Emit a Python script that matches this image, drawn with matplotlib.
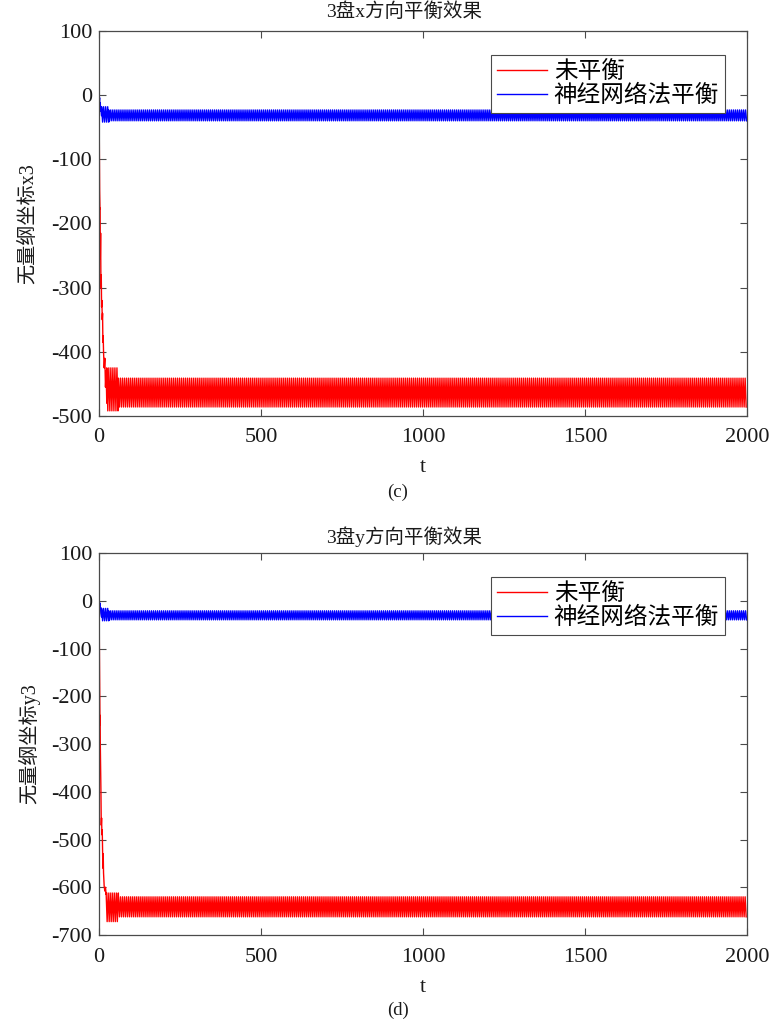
import numpy as np
import matplotlib
matplotlib.use("Agg")
import matplotlib.pyplot as plt

plt.rcParams['font.family'] = ['Liberation Serif', 'Noto Sans CJK SC']
plt.rcParams['axes.unicode_minus'] = False

# ---------------- data ----------------
# panel (c): x3 direction
c_red_t = [0, 1, 2, 3, 3.5, 4, 5, 6, 7, 8, 9, 10, 11, 12, 13, 14, 16, 18, 20, 22, 24]
c_red_v = [0, -90, -150, -178, -176, -255, -215, -300, -280, -330, -320, -350, -340, -385, -375, -400, -425, -410, -455, -430, -480]
c_red_bands = [(24, 60, -425, -492), (60, 2000, -441, -486)]

c_blue_t = [0, 1, 2, 3, 4, 5, 6, 8]
c_blue_v = [0, -8, -4, -18, -12, -25, -20, -32]
c_blue_bands = [(8, 30, -18, -42), (30, 2000, -23, -40)]

# panel (d): y3 direction
d_red_t = [0, 0.5, 1, 2, 3, 3.5, 4, 5, 6, 7, 8, 9, 10, 11, 12, 13, 14, 16, 18, 20, 22]
d_red_v = [20, 10, -80, -170, -260, -240, -300, -350, -400, -470, -455, -490, -480, -520, -560, -530, -570, -598, -608, -600, -615]
d_red_bands = [(22, 60, -612, -672), (60, 2000, -620, -662)]

d_blue_t = [0, 1, 2, 3, 4, 5, 6, 8]
d_blue_v = [8, -2, -10, -5, -18, -14, -26, -34]
d_blue_bands = [(8, 30, -16, -42), (30, 2000, -21, -40)]

osc_half_period = 3.14   # half period of the steady oscillation (~318 cycles over 2000)

x_ticks = [0, 500, 1000, 1500, 2000]
c_yticks = [-500, -400, -300, -200, -100, 0, 100]
d_yticks = [-700, -600, -500, -400, -300, -200, -100, 0, 100]
legend_labels = ['未平衡', '神经网络法平衡']
titles = ['3盘x方向平衡效果', '3盘y方向平衡效果']
ylabels = ['无量纲坐标x3', '无量纲坐标y3']
captions = ['(c)', '(d)']


def build(trans_t, trans_v, bands):
    t = list(trans_t)
    v = list(trans_v)
    for (t0, t1, hi, lo) in bands:
        tt = np.arange(t0, t1, osc_half_period)
        vv = [hi if i % 2 == 0 else lo for i in range(len(tt))]
        t.extend(tt.tolist())
        v.extend(vv)
    return np.array(t), np.array(v)


fig = plt.figure(figsize=(7.73, 10.31), dpi=100)
W, H = 773, 1031
axes_px = [(99, 31, 747, 416), (99, 553, 747, 935)]

panels = [
    (c_red_t, c_red_v, c_red_bands, c_blue_t, c_blue_v, c_blue_bands, (-500, 100), c_yticks),
    (d_red_t, d_red_v, d_red_bands, d_blue_t, d_blue_v, d_blue_bands, (-700, 100), d_yticks),
]

axcol = '#4a4a4a'
txtcol = '#1a1a1a'
for i, (rt, rv, rb, bt, bv, bb, ylim, yt) in enumerate(panels):
    l, t_, r, b = axes_px[i]
    hpx = b - t_
    ax = fig.add_axes([l / W, 1 - b / H, (r - l) / W, hpx / H])
    tr, vr = build(rt, rv, rb)
    tb, vb = build(bt, bv, bb)
    ax.plot(tr, vr, color='red', lw=1.0, label=legend_labels[0])
    ax.plot(tb, vb, color='blue', lw=1.0, label=legend_labels[1])
    ax.set_xlim(0, 2000)
    ax.set_ylim(*ylim)
    ax.set_xticks(x_ticks)
    ax.set_yticks(yt)
    ax.tick_params(direction='in', top=True, right=True, length=5, width=0.8,
                   colors=axcol, labelcolor=txtcol, labelsize=16)
    ax.tick_params(axis='x', pad=9)
    ax.tick_params(axis='y', pad=5)
    for s in ax.spines.values():
        s.set_color(axcol)
        s.set_linewidth(0.9)
    ty = 19 if i == 0 else 16
    ax.text((404 - l) / (r - l), 1 + ty / hpx, titles[i], transform=ax.transAxes,
            fontsize=14, ha='center', va='center', color=txtcol)
    ax.set_xlabel('t', fontsize=16, color=txtcol)
    ax.xaxis.set_label_coords(0.5, -52 / hpx)
    ax.xaxis.label.set_va('center')
    ax.set_ylabel(ylabels[i], fontsize=14.5, color=txtcol)
    ax.yaxis.set_label_coords(-70 / (r - l), 0.5)
    ax.yaxis.label.set_va('center')
    leg = ax.legend(loc='upper right', bbox_to_anchor=(0.966, 1 - 24 / hpx), fontsize=17,
                    frameon=True, fancybox=False, framealpha=1, edgecolor=axcol,
                    handlelength=2.1, handletextpad=0.3, labelspacing=0.1,
                    borderpad=0.25, borderaxespad=0)
    leg.get_frame().set_linewidth(0.8)
    cy = 492 if i == 0 else 1010
    fig.text(398 / W, 1 - cy / H, captions[i], fontsize=13.5, ha='center', va='center',
             family='Liberation Serif', color=txtcol)

fig.savefig('out.png', dpi=100)
